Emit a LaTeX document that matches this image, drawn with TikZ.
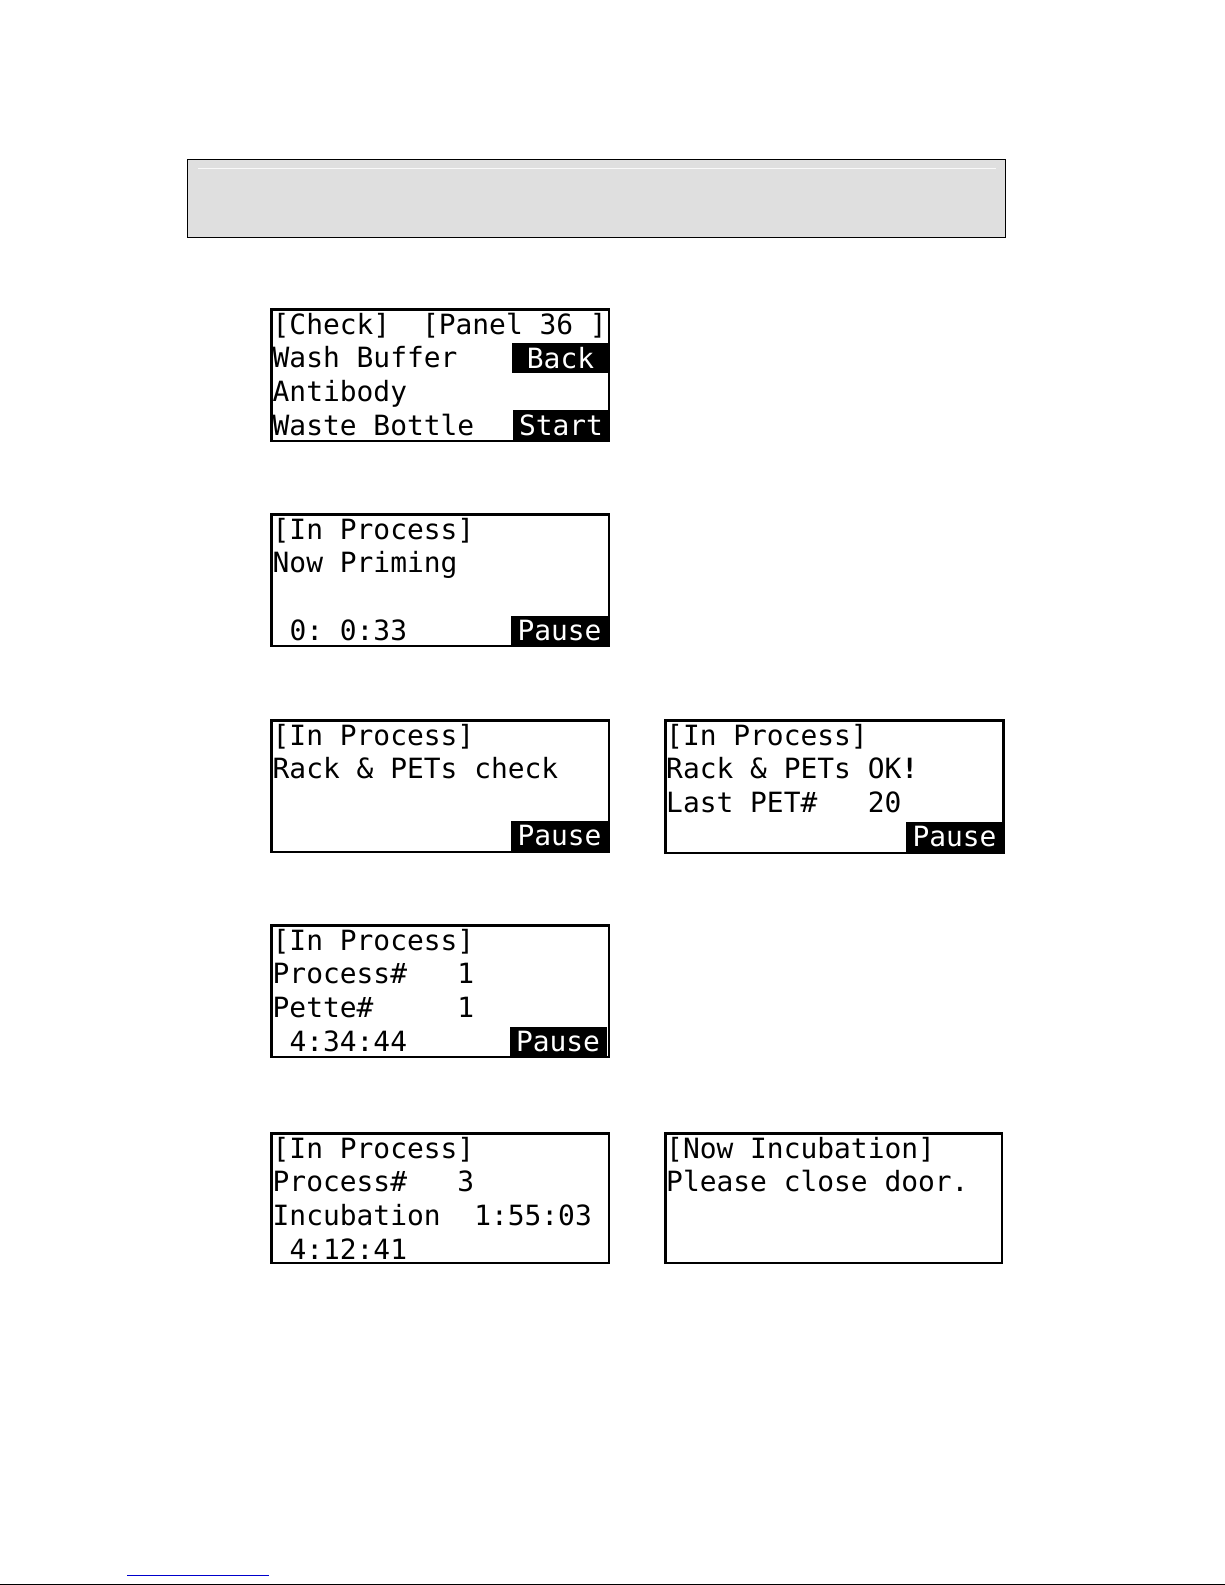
\documentclass[tikz,border=0pt]{standalone}
\usepackage{fontspec}
\newfontfamily\lcdfont{DejaVu Sans Mono}
\usetikzlibrary{positioning}
\definecolor{bargray}{RGB}{223,223,223}
\definecolor{linkblue}{RGB}{0,0,204}
\tikzset{
  panel/.style={draw, line width=2.5pt, minimum width=337.5pt, minimum height=131.5pt, inner sep=0pt},
  lcdtext/.style={anchor=base west, inner sep=0pt, font=\lcdfont\fontsize{27.9}{30}\selectfont},
  hilite/.style={fill=black, text=white, inner sep=0pt, minimum width=97pt, minimum height=30pt, font=\lcdfont\fontsize{27.9}{30}\selectfont}
}
\begin{document}
\begin{tikzpicture}[x=1pt,y=-1pt]
        \useasboundingbox (0,0) rectangle (1225,1585);
        \filldraw[fill=bargray, draw=black, line width=1pt](187.5,159.5) rectangle (1005.5,237.5);
        \draw[gray!5, line width=1pt](198,168.5) -- (996,168.5);
        % Check screen
        \node[panel] (p1) at (440,375) {};
        \node[lcdtext] (p1a) at (272.5,334) {[Check]};
        \node[lcdtext, anchor=base east] (p1b) at (607,334) {[Panel 36 ]};
        \node[lcdtext] (p1c) at (272.5,367) {Wash Buffer};
        \node[hilite] (p1back) at (560.5,358) {Back};
        \node[lcdtext] (p1d) at (272.5,401) {Antibody};
        \node[lcdtext] (p1e) at (272.5,435) {Waste Bottle};
        \node[hilite] (p1start) at (561,425) {Start};
        % priming
        \node[panel] (p2) at (440,580) {};
        \node[lcdtext] (p2a) at (272.5,539) {[In Process]};
        \node[lcdtext] (p2b) at (272.5,572) {Now Priming};
        \node[lcdtext] (p2c) at (272.5,640) {~0:~0:33};
        \node[hilite] (p2pause) at (559.5,631) {Pause};
        % rack check
        \node[panel] (p3) at (440,786) {};
        \node[lcdtext] (p3a) at (272.5,745) {[In Process]};
        \node[lcdtext] (p3b) at (272.5,778) {Rack \& PETs check};
        \node[hilite] (p3pause) at (559.5,836) {Pause};
        \node[panel, minimum width=338pt, minimum height=132.5pt] (p4) at (834.5,786.5) {};
        \node[lcdtext] (p4a) at (666,745) {[In Process]};
        \node[lcdtext] (p4b) at (666,778) {Rack \& PETs OK\textbf{!}};
        \node[lcdtext] (p4c) at (666,812) {Last PET\#~~~20};
        \node[hilite] (p4pause) at (954.5,837) {Pause};
        % process
        \node[panel] (p5) at (440,991) {};
        \node[lcdtext] (p5a) at (272.5,950) {[In Process]};
        \node[lcdtext] (p5b) at (272.5,983) {Process\#~~~1};
        \node[lcdtext] (p5c) at (272.5,1017) {Pette\#~~~~~1};
        \node[lcdtext] (p5d) at (272.5,1051) {~4:34:44};
        \node[hilite] (p5pause) at (558,1042) {Pause};
        % incubation
        \node[panel, minimum height=129.5pt] (p6) at (440,1198) {};
        \node[lcdtext] (p6a) at (272.5,1158) {[In Process]};
        \node[lcdtext] (p6b) at (272.5,1191) {Process\#~~~3};
        \node[lcdtext] (p6c) at (272.5,1225) {Incubation~~1:55:03};
        \node[lcdtext] (p6d) at (272.5,1259) {~4:12:41};
        \node[panel, minimum width=336.5pt, minimum height=129.5pt] (p7) at (833.5,1198) {};
        \node[lcdtext] (p7a) at (666,1158) {[Now Incubation]};
        \node[lcdtext] (p7b) at (666,1191) {Please close door.};
        \draw[linkblue, line width=1pt](127,1575.5) -- (269,1575.5);
        \draw[black, line width=1pt](0,1584.5) -- (1225,1584.5);
    \end{tikzpicture}
\end{document}
